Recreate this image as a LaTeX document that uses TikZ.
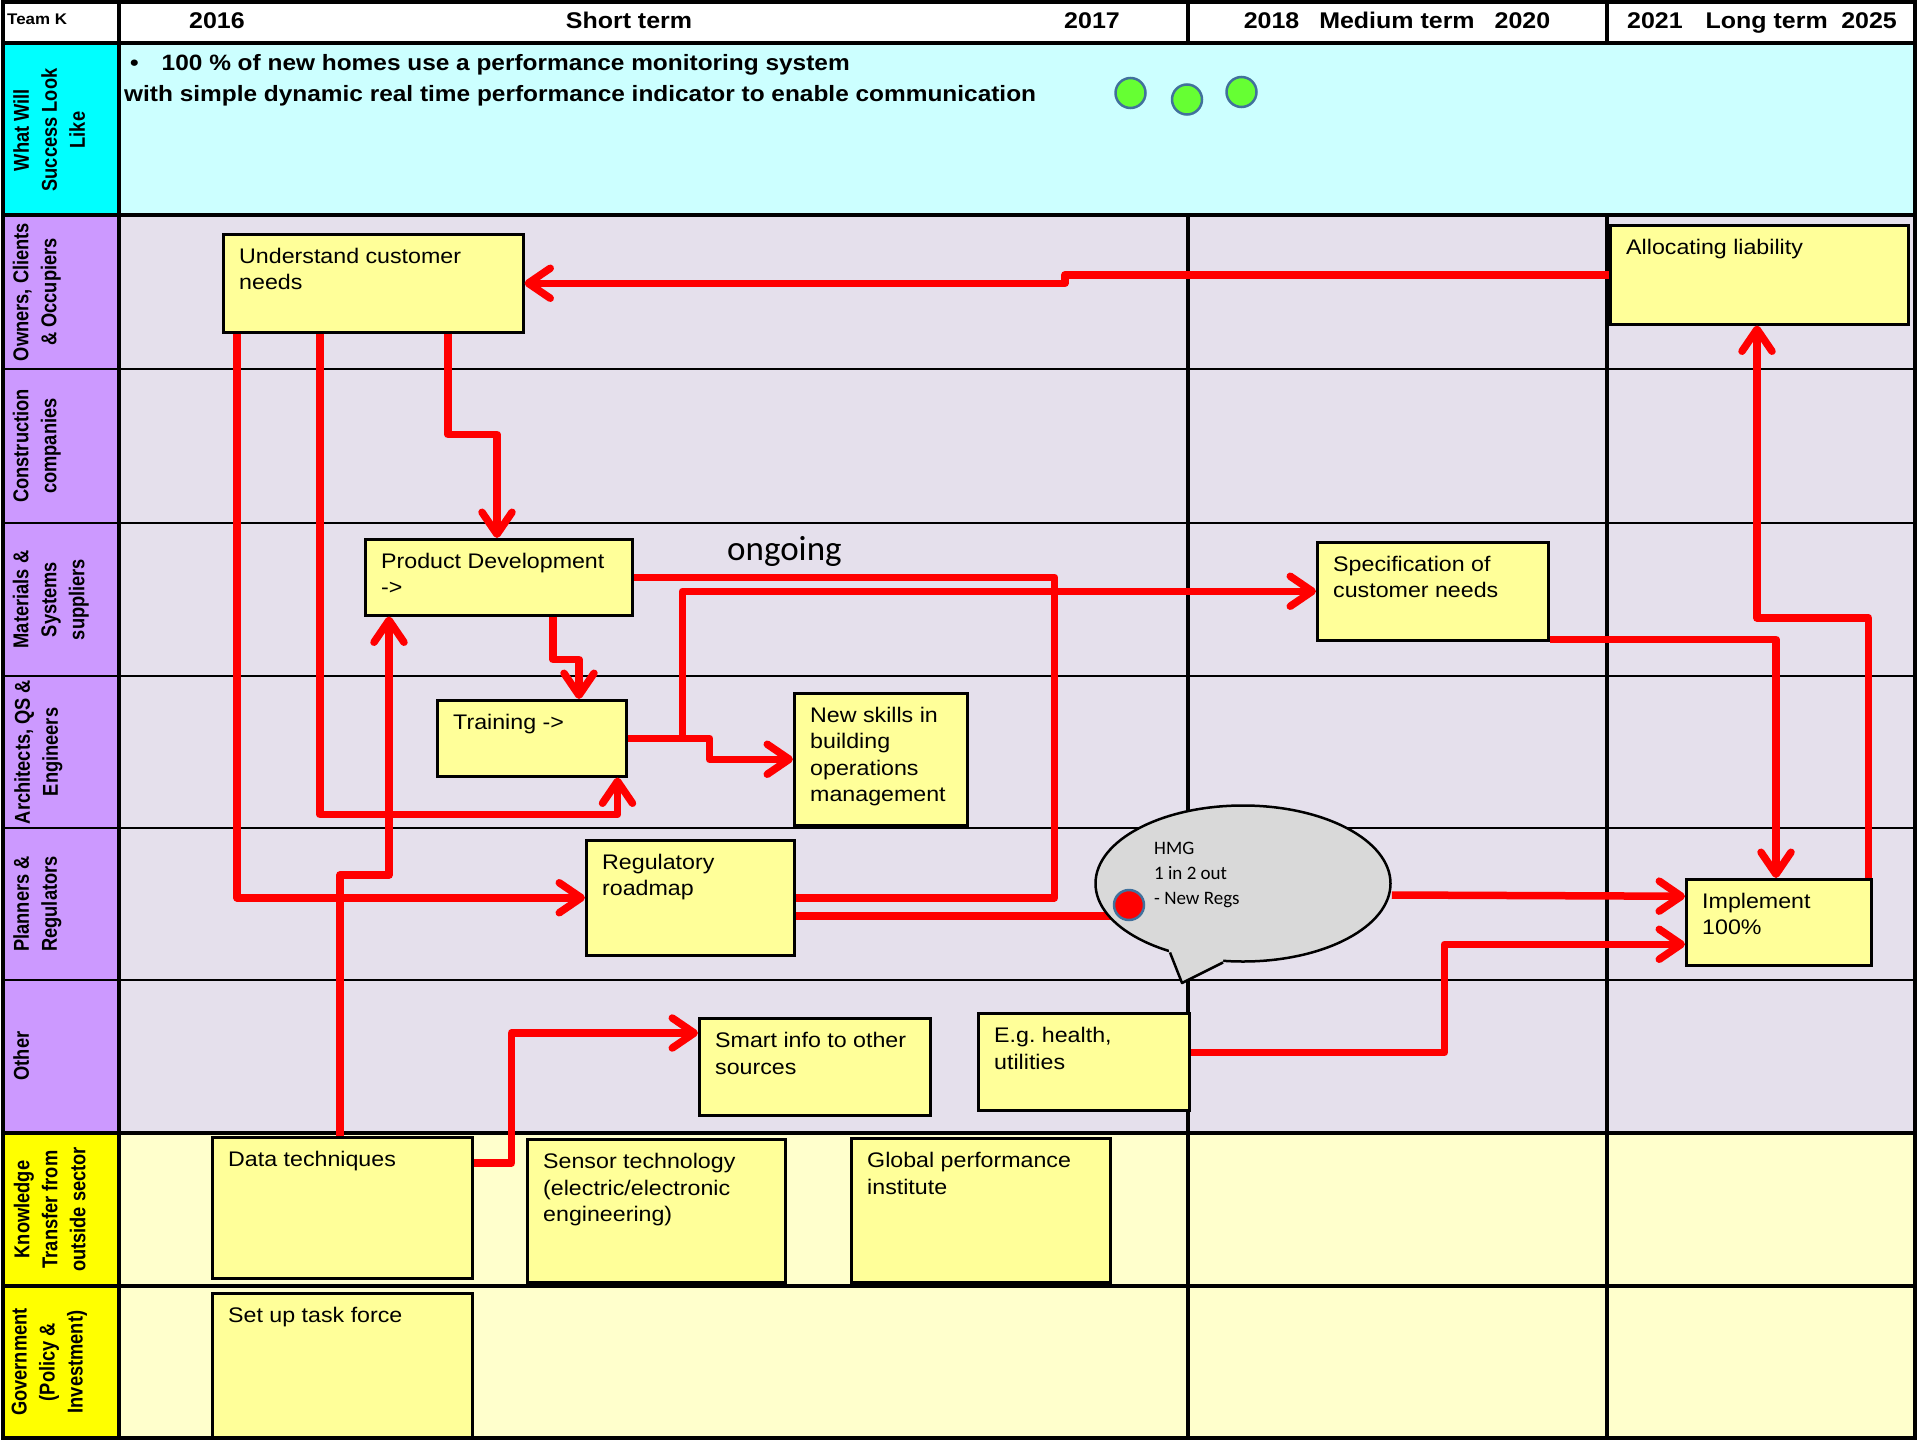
\documentclass[tikz,border=0pt]{standalone}
\usepackage{fontspec}
\setmainfont{Liberation Sans}[FakeStretch=1.1]
\newfontfamily\lanefont{Liberation Sans}[FakeStretch=0.85]
\newfontfamily\calloutfont{Carlito}
\usetikzlibrary{arrows.meta,shapes.geometric}

\definecolor{goalcyan}{HTML}{00FFFF}
\definecolor{goalbody}{HTML}{CCFFFF}
\definecolor{lanelilac}{HTML}{CC99FF}
\definecolor{lanebody}{HTML}{E5E0EC}
\definecolor{extyellow}{HTML}{FFFF00}
\definecolor{extbody}{HTML}{FFFFCC}
\definecolor{notefill}{HTML}{FFFF99}
\definecolor{flowred}{HTML}{FF0000}
\definecolor{bubblegrey}{HTML}{D9D9D9}
\definecolor{okgreen}{HTML}{66FF33}
\definecolor{dotrim}{HTML}{41719C}

\begin{document}
\begin{tikzpicture}[x=1pt, y=-1pt,
    noteStyle/.style={rectangle, draw=black, fill=notefill, line width=2.5pt, anchor=north west, inner sep=0pt},
    noteTextStyle/.style={anchor=north west, align=left, inner xsep=17pt, inner ysep=15pt, font=\fontsize{21.1}{26.5}\selectfont},
    laneStyle/.style={rotate=90, anchor=north, align=center, inner sep=0pt, font=\lanefont\bfseries\fontsize{21.5}{28}\selectfont},
    headStyle/.style={anchor=base, inner sep=0pt, font=\bfseries\fontsize{22.7}{26}\selectfont},
    goalStyle/.style={anchor=base west, inner sep=0pt, font=\bfseries\fontsize{22.2}{26}\selectfont},
    dotStyle/.style={circle, draw=dotrim, line width=2.5pt, minimum size=30pt, inner sep=0pt},
    flowStyle/.style={draw=flowred, line width=7.5pt, line join=round},
    flowArrowStyle/.style={flowStyle, -{Straight Barb[length=22pt,width=30pt,round]}}]
    \useasboundingbox (0,0) rectangle (1920,1440);

    \fill[white]     (3,2)      rectangle (1915,43);
    \fill[goalcyan]  (3,43)     rectangle (119,215);
    \fill[goalbody]  (119,43)   rectangle (1915,215);
    \fill[lanelilac] (3,215)    rectangle (119,1133);
    \fill[lanebody]  (119,215)  rectangle (1915,1133);
    \fill[extyellow] (3,1133)   rectangle (119,1438);
    \fill[extbody]   (119,1133) rectangle (1915,1438);

    \draw[line width=2.5pt] (3,369) -- (1915,369);
    \draw[line width=2.5pt] (3,523) -- (1915,523);
    \draw[line width=2.5pt] (3,676) -- (1915,676);
    \draw[line width=2.5pt] (3,828) -- (1915,828);
    \draw[line width=2.5pt] (3,980) -- (1915,980);
    \draw[line width=3.5pt] (3,1286) -- (1915,1286);
    \draw[line width=4pt] (3,43) -- (1915,43);
    \draw[line width=4pt] (3,215) -- (1915,215);
    \draw[line width=4pt] (3,1133) -- (1915,1133);
    \draw[line width=3.5pt] (1188,2) -- (1188,43) (1188,215) -- (1188,1438);
    \draw[line width=3.5pt] (1607,2) -- (1607,43) (1607,215) -- (1607,1438);
    \draw[line width=4.5pt] (119,2) -- (119,1438);
    \draw[line width=4pt] (3,2) rectangle (1915,1438);

    \node[anchor=base west, inner sep=0pt, font=\bfseries\fontsize{15.4}{18}\selectfont] (team) at (7,24) {Team K};
    \node[headStyle] (yr_2016)    at (217,28.5)  {2016};
    \node[headStyle] (short_term) at (629,28.5)  {Short term};
    \node[headStyle] (yr_2017)    at (1092,28.5) {2017};
    \node[headStyle] (med_term)   at (1397,28.5) {2018\hspace{20pt}Medium term\hspace{20pt}2020};
    \node[headStyle] (long_term)  at (1762,28.5) {2021\hspace{23pt}Long term\hspace{13.5pt}2025};

    \node[goalStyle] (goal_1) at (124,70) {\hspace{6pt}\textbullet\hspace{23pt}100 \% of new homes use a performance monitoring system};
    \node[goalStyle] (goal_2) at (124,101) {with simple dynamic real time performance indicator to enable communication};
    \node[dotStyle, fill=okgreen] (ok_1) at (1130.5,93) {};
    \node[dotStyle, fill=okgreen] (ok_2) at (1187,99.5) {};
    \node[dotStyle, fill=okgreen] (ok_3) at (1241.5,92) {};

    \node[laneStyle] (lane_goal)   at (13,130)     {What Will\\Success Look\\Like};
    \node[laneStyle] (lane_owner)  at (12.5,292)   {Owners, Clients\\\& Occupiers};
    \node[laneStyle] (lane_build)  at (12.5,446)   {Construction\\companies};
    \node[laneStyle] (lane_supply) at (12.5,599.5) {Materials \&\\Systems\\suppliers};
    \node[laneStyle] (lane_design) at (14,752)     {Architects, QS \&\\Engineers};
    \node[laneStyle] (lane_plan)   at (13,904)     {Planners \&\\Regulators};
    \node[laneStyle] (lane_other)  at (13,1056)    {Other};
    \node[laneStyle] (lane_know)   at (13.5,1209.5){Knowledge\\Transfer from\\outside sector};
    \node[laneStyle] (lane_gov)    at (11.5,1362)  {Government\\(Policy \&\\Investment)};

    \node[noteStyle, minimum width=300pt, minimum height=98pt]  (needs)       at (222,233)  {};
    \node[noteStyle, minimum width=298pt, minimum height=99pt]  (liability)   at (1609,224) {};
    \node[noteStyle, minimum width=267pt, minimum height=76pt]  (prod_dev)    at (364,538)  {};
    \node[noteStyle, minimum width=189pt, minimum height=76pt]  (training)    at (436,699)  {};
    \node[noteStyle, minimum width=173pt, minimum height=132pt] (new_skills)  at (793,692)  {};
    \node[noteStyle, minimum width=208pt, minimum height=115pt] (roadmap)     at (585,839)  {};
    \node[noteStyle, minimum width=231pt, minimum height=98pt]  (spec)        at (1316,541) {};
    \node[noteStyle, minimum width=185pt, minimum height=86pt]  (implement)   at (1685,878) {};
    \node[noteStyle, minimum width=231pt, minimum height=97pt]  (smart_info)  at (698,1017) {};
    \node[noteStyle, minimum width=211pt, minimum height=97pt]  (health)      at (977,1012) {};
    \node[noteStyle, minimum width=260pt, minimum height=141pt] (data_tech)   at (211,1136) {};
    \node[noteStyle, minimum width=258pt, minimum height=143pt] (sensor)      at (526,1138) {};
    \node[noteStyle, minimum width=259pt, minimum height=144pt] (global_inst) at (850,1137) {};
    \node[noteStyle, minimum width=260pt, minimum height=144pt] (task_force)  at (211,1292) {};

    \node[noteTextStyle] (needs_t)       at (needs.north west)       {Understand customer\\needs};
    \node[noteTextStyle] (liability_t)   at (liability.north west)   {Allocating liability};
    \node[noteTextStyle] (prod_dev_t)    at (prod_dev.north west)    {Product Development\\->};
    \node[noteTextStyle] (training_t)    at (training.north west)    {Training ->};
    \node[noteTextStyle] (new_skills_t)  at (new_skills.north west)  {New skills in\\building\\operations\\management};
    \node[noteTextStyle] (roadmap_t)     at (roadmap.north west)     {Regulatory\\roadmap};
    \node[noteTextStyle] (spec_t)        at (spec.north west)        {Specification of\\customer needs};
    \node[noteTextStyle] (implement_t)   at (implement.north west)   {Implement\\100\%};
    \node[noteTextStyle] (smart_info_t)  at (smart_info.north west)  {Smart info to other\\sources};
    \node[noteTextStyle] (health_t)      at (health.north west)      {E.g.\ health,\\utilities};
    \node[noteTextStyle] (data_tech_t)   at (data_tech.north west)   {Data techniques};
    \node[noteTextStyle] (sensor_t)      at (sensor.north west)      {Sensor technology\\(electric/electronic\\engineering)};
    \node[noteTextStyle] (global_inst_t) at (global_inst.north west) {Global performance\\institute};
    \node[noteTextStyle] (task_force_t)  at (task_force.north west)  {Set up task force};

    \coordinate (regs_in) at (1129,916);

    \draw[flowArrowStyle] (liability.west) -- ++(-544,0) |- (needs.east);
    \draw[flowArrowStyle] ([xshift=226pt]needs.south west) -- ++(0,101) -| ([xshift=133pt]prod_dev.north west);
    \draw[flowArrowStyle] ([xshift=15pt]needs.south west) |- (roadmap.west);
    \draw[flowArrowStyle] ([xshift=98pt]needs.south west) -- ++(0,481) -| ([xshift=-10pt]training.south east);
    \draw[flowArrowStyle] ([xshift=129pt]data_tech.north west) -- ++(0,-261) -| ([xshift=25pt]prod_dev.south west);
    \draw[flowArrowStyle] ([xshift=189pt]prod_dev.south west) -- ++(0,43) -| ([xshift=143pt]training.north west);
    \draw[flowStyle] (prod_dev.east) -- ++(421,0) |- (roadmap.east);
    \draw[flowArrowStyle] (training.east) -- ++(55,0) |- (spec.west);
    \draw[flowArrowStyle] (training.east) -- ++(82,0) |- (new_skills.west);
    \draw[flowStyle] (regs_in -| roadmap.east) -- (regs_in);
    \draw[flowArrowStyle] ([yshift=9.5pt]health.east) -- ++(254,0) |- ([yshift=-22pt]implement.west);
    \draw[flowArrowStyle] ([yshift=2pt]spec.south east) -| ([xshift=91pt]implement.north west);
    \draw[flowArrowStyle] ([xshift=-4pt]implement.north east) -- ++(0,-260) -| ([xshift=148pt]liability.south west);
    \draw[flowArrowStyle] ([yshift=-27pt]data_tech.north east) -- ++(38,0) |- ([yshift=-16pt]smart_info.north west);

    \node[anchor=base west, inner sep=0pt, font=\calloutfont\fontsize{35}{40}\selectfont] (ongoing) at (727,560) {ongoing};

    \node[ellipse, draw=black, fill=bubblegrey, line width=2.5pt, minimum width=295pt, minimum height=156pt, inner sep=0pt] (hmg) at (1243,883.5) {};
    \fill[bubblegrey] (1169,951) -- (1182,983) -- (1223,962) -- (1223,955) -- (1169,944) -- cycle;
    \draw[line width=2.5pt, line join=round] (1170,952.5) -- (1182,983) -- (1223,962.5);
    \node[anchor=north west, align=left, inner sep=0pt, font=\calloutfont\fontsize{19}{25}\selectfont] (hmg_t) at (1154,842) {HMG\\1 in 2 out\\- New Regs};
    \node[dotStyle, fill=flowred] (regs_dot) at (1129,905) {};

    \draw[flowArrowStyle] ([yshift=-11.5pt]hmg.east) -- ([yshift=26pt]implement.west);
\end{tikzpicture}
\end{document}
